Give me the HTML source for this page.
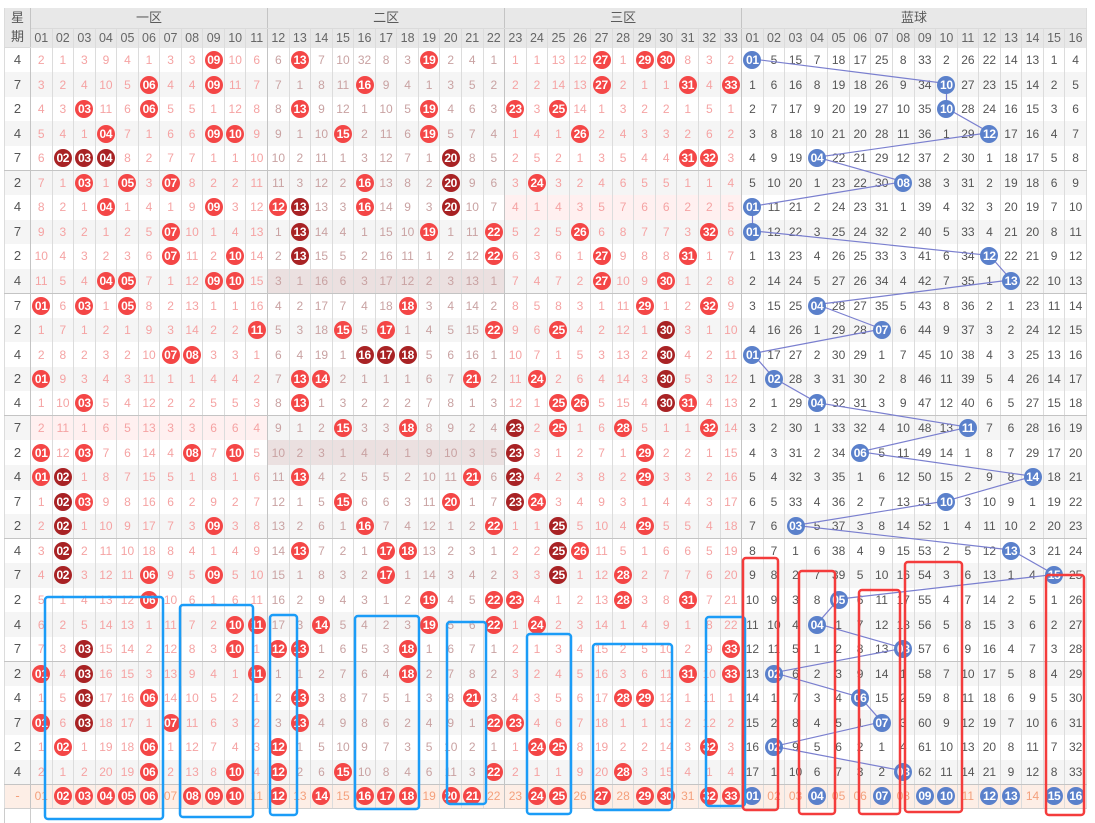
<!DOCTYPE html>
<html><head><meta charset="utf-8">
<style>
html,body{margin:0;padding:0;background:#fff}
body{width:1095px;height:823px;overflow:hidden;position:relative;font-family:"Liberation Sans","Noto Sans CJK SC",sans-serif}
table{position:absolute;left:4px;top:8px;border-collapse:collapse;table-layout:fixed;width:1082.4px}
td,th{padding:0;text-align:center;vertical-align:middle;white-space:nowrap;overflow:visible;border-left:1px solid #dcdcdc;border-right:1px solid #dcdcdc;font-size:12px;line-height:18px}
th{background:#e8e8e8;color:#5a5a5a;font-weight:normal}
thead tr.h1 th{height:20.3px;font-size:13px;border-bottom:1px solid #dadada}
thead tr.h2 th{height:18.4px;font-size:12.5px;color:#666}
th.wk{font-size:13px;line-height:18.4px;color:#555}
tbody tr{height:24.55px}
tbody tr:nth-child(even) td{background:#f5f5f5}
tbody tr:nth-child(5n) td{border-bottom:1px solid #c4c4c4}
td:nth-child(1){color:#555;font-size:13px}
td:nth-child(n+2){color:#f5a3a3}
td:nth-child(n+13){color:#c9a2a2}
td:nth-child(n+24){color:#f5a3a3}
td:nth-child(n+35){color:#555}
td:nth-child(1),td:nth-child(12),td:nth-child(23),td:nth-child(34){border-right:1px solid #c4c4c4}
th.z{border-right:1px solid #c4c4c4}
tbody tr td.p{background:#fff0f0}
tbody tr td.m{background:#ebe0e0}
b{display:block;margin:0 auto;width:18px;height:18px;line-height:18px;border-radius:50%;background:#f44646;color:#fff!important;font-weight:bold;font-size:12px;letter-spacing:-0.3px;position:relative;z-index:2}
b.d{background:#a82224}
b.u{background:#5a80cb}
tbody tr.s td{background:#fdeee6;color:#f4a07c;border-bottom:1px solid #cfcfcf}
svg{position:absolute;left:0;top:0}
.tail{position:absolute;left:4px;top:808px;width:25px;height:15px;border-left:1px solid #ccc;border-right:1px solid #ccc}
</style></head><body>
<table>
<colgroup><col style="width:26px"><col span="49" style="width:21.56px"></colgroup>
<thead>
<tr class="h1"><th rowspan="2" class="wk z">星<br>期</th><th colspan="11" class="z">一区</th><th colspan="11" class="z">二区</th><th colspan="11" class="z">三区</th><th colspan="16">蓝球</th></tr>
<tr class="h2"><th>01</th><th>02</th><th>03</th><th>04</th><th>05</th><th>06</th><th>07</th><th>08</th><th>09</th><th>10</th><th class="z">11</th><th>12</th><th>13</th><th>14</th><th>15</th><th>16</th><th>17</th><th>18</th><th>19</th><th>20</th><th>21</th><th class="z">22</th><th>23</th><th>24</th><th>25</th><th>26</th><th>27</th><th>28</th><th>29</th><th>30</th><th>31</th><th>32</th><th class="z">33</th><th>01</th><th>02</th><th>03</th><th>04</th><th>05</th><th>06</th><th>07</th><th>08</th><th>09</th><th>10</th><th>11</th><th>12</th><th>13</th><th>14</th><th>15</th><th>16</th></tr>
</thead>
<tbody>
<tr><td>4<td>2<td>1<td>3<td>9<td>4<td>1<td>3<td>3<td><b>09</b><td>10<td>6<td>6<td><b>13</b><td>7<td>10<td>32<td>8<td>3<td><b>19</b><td>2<td>4<td>1<td>1<td>1<td>13<td>12<td><b>27</b><td>1<td><b>29</b><td><b>30</b><td>8<td>3<td>2<td><b class=u>01</b><td>5<td>15<td>7<td>18<td>17<td>25<td>8<td>33<td>2<td>26<td>22<td>14<td>13<td>1<td>4</tr>
<tr><td>7<td>3<td>2<td>4<td>10<td>5<td><b>06</b><td>4<td>4<td><b>09</b><td>11<td>7<td>7<td>1<td>8<td>11<td><b>16</b><td>9<td>4<td>1<td>3<td>5<td>2<td>2<td>2<td>14<td>13<td><b>27</b><td>2<td>1<td>1<td><b>31</b><td>4<td><b>33</b><td>1<td>6<td>16<td>8<td>19<td>18<td>26<td>9<td>34<td><b class=u>10</b><td>27<td>23<td>15<td>14<td>2<td>5</tr>
<tr><td>2<td>4<td>3<td><b>03</b><td>11<td>6<td><b>06</b><td>5<td>5<td>1<td>12<td>8<td>8<td><b>13</b><td>9<td>12<td>1<td>10<td>5<td><b>19</b><td>4<td>6<td>3<td><b>23</b><td>3<td><b>25</b><td>14<td>1<td>3<td>2<td>2<td>1<td>5<td>1<td>2<td>7<td>17<td>9<td>20<td>19<td>27<td>10<td>35<td><b class=u>10</b><td>28<td>24<td>16<td>15<td>3<td>6</tr>
<tr><td>4<td>5<td>4<td>1<td><b>04</b><td>7<td>1<td>6<td>6<td><b>09</b><td><b>10</b><td>9<td>9<td>1<td>10<td><b>15</b><td>2<td>11<td>6<td><b>19</b><td>5<td>7<td>4<td>1<td>4<td>1<td><b>26</b><td>2<td>4<td>3<td>3<td>2<td>6<td>2<td>3<td>8<td>18<td>10<td>21<td>20<td>28<td>11<td>36<td>1<td>29<td><b class=u>12</b><td>17<td>16<td>4<td>7</tr>
<tr><td>7<td>6<td><b class=d>02</b><td><b class=d>03</b><td><b class=d>04</b><td>8<td>2<td>7<td>7<td>1<td>1<td>10<td>10<td>2<td>11<td>1<td>3<td>12<td>7<td>1<td><b class=d>20</b><td>8<td>5<td>2<td>5<td>2<td>1<td>3<td>5<td>4<td>4<td><b>31</b><td><b>32</b><td>3<td>4<td>9<td>19<td><b class=u>04</b><td>22<td>21<td>29<td>12<td>37<td>2<td>30<td>1<td>18<td>17<td>5<td>8</tr>
<tr><td>2<td>7<td>1<td><b>03</b><td>1<td><b>05</b><td>3<td><b>07</b><td>8<td>2<td>2<td>11<td>11<td>3<td>12<td>2<td><b>16</b><td>13<td>8<td>2<td><b class=d>20</b><td>9<td>6<td>3<td><b>24</b><td>3<td>2<td>4<td>6<td>5<td>5<td>1<td>1<td>4<td>5<td>10<td>20<td>1<td>23<td>22<td>30<td><b class=u>08</b><td>38<td>3<td>31<td>2<td>19<td>18<td>6<td>9</tr>
<tr><td>4<td>8<td>2<td>1<td><b>04</b><td>1<td>4<td>1<td>9<td><b>09</b><td>3<td>12<td><b>12</b><td><b class=d>13</b><td>13<td>3<td><b>16</b><td>14<td>9<td>3<td><b class=d>20</b><td>10<td>7<td class=p>4<td class=p>1<td class=p>4<td class=p>3<td class=p>5<td class=p>7<td class=p>6<td class=p>6<td class=p>2<td class=p>2<td class=p>5<td><b class=u>01</b><td>11<td>21<td>2<td>24<td>23<td>31<td>1<td>39<td>4<td>32<td>3<td>20<td>19<td>7<td>10</tr>
<tr><td>7<td>9<td>3<td>2<td>1<td>2<td>5<td><b>07</b><td>10<td>1<td>4<td>13<td>1<td><b class=d>13</b><td>14<td>4<td>1<td>15<td>10<td><b>19</b><td>1<td>11<td><b>22</b><td>5<td>2<td>5<td><b>26</b><td>6<td>8<td>7<td>7<td>3<td><b>32</b><td>6<td><b class=u>01</b><td>12<td>22<td>3<td>25<td>24<td>32<td>2<td>40<td>5<td>33<td>4<td>21<td>20<td>8<td>11</tr>
<tr><td>2<td>10<td>4<td>3<td>2<td>3<td>6<td><b>07</b><td>11<td>2<td><b>10</b><td>14<td>2<td><b class=d>13</b><td>15<td>5<td>2<td>16<td>11<td>1<td>2<td>12<td><b>22</b><td>6<td>3<td>6<td>1<td><b>27</b><td>9<td>8<td>8<td><b>31</b><td>1<td>7<td>1<td>13<td>23<td>4<td>26<td>25<td>33<td>3<td>41<td>6<td>34<td><b class=u>12</b><td>22<td>21<td>9<td>12</tr>
<tr><td>4<td>11<td>5<td>4<td><b>04</b><td><b>05</b><td>7<td>1<td>12<td><b>09</b><td><b>10</b><td>15<td class=m>3<td class=m>1<td class=m>16<td class=m>6<td class=m>3<td class=m>17<td class=m>12<td class=m>2<td class=m>3<td class=m>13<td class=m>1<td>7<td>4<td>7<td>2<td><b>27</b><td>10<td>9<td><b>30</b><td>1<td>2<td>8<td>2<td>14<td>24<td>5<td>27<td>26<td>34<td>4<td>42<td>7<td>35<td>1<td><b class=u>13</b><td>22<td>10<td>13</tr>
<tr><td>7<td><b>01</b><td>6<td><b>03</b><td>1<td><b>05</b><td>8<td>2<td>13<td>1<td>1<td>16<td>4<td>2<td>17<td>7<td>4<td>18<td><b>18</b><td>3<td>4<td>14<td>2<td>8<td>5<td>8<td>3<td>1<td>11<td><b>29</b><td>1<td>2<td><b>32</b><td>9<td>3<td>15<td>25<td><b class=u>04</b><td>28<td>27<td>35<td>5<td>43<td>8<td>36<td>2<td>1<td>23<td>11<td>14</tr>
<tr><td>2<td>1<td>7<td>1<td>2<td>1<td>9<td>3<td>14<td>2<td>2<td><b>11</b><td>5<td>3<td>18<td><b>15</b><td>5<td><b>17</b><td>1<td>4<td>5<td>15<td><b>22</b><td>9<td>6<td><b>25</b><td>4<td>2<td>12<td>1<td><b class=d>30</b><td>3<td>1<td>10<td>4<td>16<td>26<td>1<td>29<td>28<td><b class=u>07</b><td>6<td>44<td>9<td>37<td>3<td>2<td>24<td>12<td>15</tr>
<tr><td>4<td>2<td>8<td>2<td>3<td>2<td>10<td><b>07</b><td><b>08</b><td>3<td>3<td>1<td>6<td>4<td>19<td>1<td><b class=d>16</b><td><b class=d>17</b><td><b class=d>18</b><td>5<td>6<td>16<td>1<td>10<td>7<td>1<td>5<td>3<td>13<td>2<td><b class=d>30</b><td>4<td>2<td>11<td><b class=u>01</b><td>17<td>27<td>2<td>30<td>29<td>1<td>7<td>45<td>10<td>38<td>4<td>3<td>25<td>13<td>16</tr>
<tr><td>2<td><b>01</b><td>9<td>3<td>4<td>3<td>11<td>1<td>1<td>4<td>4<td>2<td>7<td><b>13</b><td><b>14</b><td>2<td>1<td>1<td>1<td>6<td>7<td><b>21</b><td>2<td>11<td><b>24</b><td>2<td>6<td>4<td>14<td>3<td><b class=d>30</b><td>5<td>3<td>12<td>1<td><b class=u>02</b><td>28<td>3<td>31<td>30<td>2<td>8<td>46<td>11<td>39<td>5<td>4<td>26<td>14<td>17</tr>
<tr><td>4<td>1<td>10<td><b>03</b><td>5<td>4<td>12<td>2<td>2<td>5<td>5<td>3<td>8<td><b>13</b><td>1<td>3<td>2<td>2<td>2<td>7<td>8<td>1<td>3<td>12<td>1<td><b>25</b><td><b>26</b><td>5<td>15<td>4<td><b class=d>30</b><td><b>31</b><td>4<td>13<td>2<td>1<td>29<td><b class=u>04</b><td>32<td>31<td>3<td>9<td>47<td>12<td>40<td>6<td>5<td>27<td>15<td>18</tr>
<tr><td>7<td class=p>2<td class=p>11<td class=p>1<td class=p>6<td class=p>5<td class=p>13<td class=p>3<td class=p>3<td class=p>6<td class=p>6<td class=p>4<td>9<td>1<td>2<td><b>15</b><td>3<td>3<td><b>18</b><td>8<td>9<td>2<td>4<td><b class=d>23</b><td>2<td><b>25</b><td>1<td>6<td><b>28</b><td>5<td>1<td>1<td><b>32</b><td>14<td>3<td>2<td>30<td>1<td>33<td>32<td>4<td>10<td>48<td>13<td><b class=u>11</b><td>7<td>6<td>28<td>16<td>19</tr>
<tr><td>2<td><b>01</b><td>12<td><b>03</b><td>7<td>6<td>14<td>4<td><b>08</b><td>7<td><b>10</b><td>5<td class=m>10<td class=m>2<td class=m>3<td class=m>1<td class=m>4<td class=m>4<td class=m>1<td class=m>9<td class=m>10<td class=m>3<td class=m>5<td><b class=d>23</b><td>3<td>1<td>2<td>7<td>1<td><b>29</b><td>2<td>2<td>1<td>15<td>4<td>3<td>31<td>2<td>34<td><b class=u>06</b><td>5<td>11<td>49<td>14<td>1<td>8<td>7<td>29<td>17<td>20</tr>
<tr><td>4<td><b>01</b><td><b class=d>02</b><td>1<td>8<td>7<td>15<td>5<td>1<td>8<td>1<td>6<td>11<td><b>13</b><td>4<td>2<td>5<td>5<td>2<td>10<td>11<td><b>21</b><td>6<td><b class=d>23</b><td>4<td>2<td>3<td>8<td>2<td><b>29</b><td>3<td>3<td>2<td>16<td>5<td>4<td>32<td>3<td>35<td>1<td>6<td>12<td>50<td>15<td>2<td>9<td>8<td><b class=u>14</b><td>18<td>21</tr>
<tr><td>7<td>1<td><b class=d>02</b><td><b>03</b><td>9<td>8<td>16<td>6<td>2<td>9<td>2<td>7<td>12<td>1<td>5<td><b>15</b><td>6<td>6<td>3<td>11<td><b>20</b><td>1<td>7<td><b class=d>23</b><td><b>24</b><td>3<td>4<td>9<td>3<td>1<td>4<td>4<td>3<td>17<td>6<td>5<td>33<td>4<td>36<td>2<td>7<td>13<td>51<td><b class=u>10</b><td>3<td>10<td>9<td>1<td>19<td>22</tr>
<tr><td>2<td>2<td><b class=d>02</b><td>1<td>10<td>9<td>17<td>7<td>3<td><b>09</b><td>3<td>8<td>13<td>2<td>6<td>1<td><b>16</b><td>7<td>4<td>12<td>1<td>2<td><b>22</b><td>1<td>1<td><b class=d>25</b><td>5<td>10<td>4<td><b>29</b><td>5<td>5<td>4<td>18<td>7<td>6<td><b class=u>03</b><td>5<td>37<td>3<td>8<td>14<td>52<td>1<td>4<td>11<td>10<td>2<td>20<td>23</tr>
<tr><td>4<td>3<td><b class=d>02</b><td>2<td>11<td>10<td>18<td>8<td>4<td>1<td>4<td>9<td>14<td><b>13</b><td>7<td>2<td>1<td><b>17</b><td><b>18</b><td>13<td>2<td>3<td>1<td>2<td>2<td><b class=d>25</b><td><b>26</b><td>11<td>5<td>1<td>6<td>6<td>5<td>19<td>8<td>7<td>1<td>6<td>38<td>4<td>9<td>15<td>53<td>2<td>5<td>12<td><b class=u>13</b><td>3<td>21<td>24</tr>
<tr><td>7<td>4<td><b class=d>02</b><td>3<td>12<td>11<td><b>06</b><td>9<td>5<td><b>09</b><td>5<td>10<td>15<td>1<td>8<td>3<td>2<td><b>17</b><td>1<td>14<td>3<td>4<td>2<td>3<td>3<td><b class=d>25</b><td>1<td>12<td><b>28</b><td>2<td>7<td>7<td>6<td>20<td>9<td>8<td>2<td>7<td>39<td>5<td>10<td>16<td>54<td>3<td>6<td>13<td>1<td>4<td><b class=u>15</b><td>25</tr>
<tr><td>2<td>5<td>1<td>4<td>13<td>12<td><b>06</b><td>10<td>6<td>1<td>6<td>11<td>16<td>2<td>9<td>4<td>3<td>1<td>2<td><b>19</b><td>4<td>5<td><b>22</b><td><b>23</b><td>4<td>1<td>2<td>13<td><b>28</b><td>3<td>8<td><b>31</b><td>7<td>21<td>10<td>9<td>3<td>8<td><b class=u>05</b><td>6<td>11<td>17<td>55<td>4<td>7<td>14<td>2<td>5<td>1<td>26</tr>
<tr><td>4<td>6<td>2<td>5<td>14<td>13<td>1<td>11<td>7<td>2<td><b>10</b><td><b>11</b><td>17<td>3<td><b>14</b><td>5<td>4<td>2<td>3<td><b>19</b><td>5<td>6<td><b>22</b><td>1<td><b>24</b><td>2<td>3<td>14<td>1<td>4<td>9<td>1<td>8<td>22<td>11<td>10<td>4<td><b class=u>04</b><td>1<td>7<td>12<td>18<td>56<td>5<td>8<td>15<td>3<td>6<td>2<td>27</tr>
<tr><td>7<td>7<td>3<td><b class=d>03</b><td>15<td>14<td>2<td>12<td>8<td>3<td><b>10</b><td>1<td><b>12</b><td><b>13</b><td>1<td>6<td>5<td>3<td><b>18</b><td>1<td>6<td>7<td>1<td>2<td>1<td>3<td>4<td>15<td>2<td>5<td>10<td>2<td>9<td><b>33</b><td>12<td>11<td>5<td>1<td>2<td>8<td>13<td><b class=u>08</b><td>57<td>6<td>9<td>16<td>4<td>7<td>3<td>28</tr>
<tr><td>2<td><b>01</b><td>4<td><b class=d>03</b><td>16<td>15<td>3<td>13<td>9<td>4<td>1<td><b>11</b><td>1<td>1<td>2<td>7<td>6<td>4<td><b>18</b><td>2<td>7<td>8<td>2<td>3<td>2<td>4<td>5<td>16<td>3<td>6<td>11<td><b>31</b><td>10<td><b>33</b><td>13<td><b class=u>02</b><td>6<td>2<td>3<td>9<td>14<td>1<td>58<td>7<td>10<td>17<td>5<td>8<td>4<td>29</tr>
<tr><td>4<td>1<td>5<td><b class=d>03</b><td>17<td>16<td><b>06</b><td>14<td>10<td>5<td>2<td>1<td>2<td><b>13</b><td>3<td>8<td>7<td>5<td>1<td>3<td>8<td><b>21</b><td>3<td>4<td>3<td>5<td>6<td>17<td><b>28</b><td><b>29</b><td>12<td>1<td>11<td>1<td>14<td>1<td>7<td>3<td>4<td><b class=u>06</b><td>15<td>2<td>59<td>8<td>11<td>18<td>6<td>9<td>5<td>30</tr>
<tr><td>7<td><b>01</b><td>6<td><b class=d>03</b><td>18<td>17<td>1<td><b>07</b><td>11<td>6<td>3<td>2<td>3<td><b>13</b><td>4<td>9<td>8<td>6<td>2<td>4<td>9<td>1<td><b>22</b><td><b>23</b><td>4<td>6<td>7<td>18<td>1<td>1<td>13<td>2<td>12<td>2<td>15<td>2<td>8<td>4<td>5<td>1<td><b class=u>07</b><td>3<td>60<td>9<td>12<td>19<td>7<td>10<td>6<td>31</tr>
<tr><td>2<td>1<td><b>02</b><td>1<td>19<td>18<td><b>06</b><td>1<td>12<td>7<td>4<td>3<td><b>12</b><td>1<td>5<td>10<td>9<td>7<td>3<td>5<td>10<td>2<td>1<td>1<td><b>24</b><td><b>25</b><td>8<td>19<td>2<td>2<td>14<td>3<td><b>32</b><td>3<td>16<td><b class=u>02</b><td>9<td>5<td>6<td>2<td>1<td>4<td>61<td>10<td>13<td>20<td>8<td>11<td>7<td>32</tr>
<tr><td>4<td>2<td>1<td>2<td>20<td>19<td><b>06</b><td>2<td>13<td>8<td><b>10</b><td>4<td><b>12</b><td>2<td>6<td><b>15</b><td>10<td>8<td>4<td>6<td>11<td>3<td><b>22</b><td>2<td>1<td>1<td>9<td>20<td><b>28</b><td>3<td>15<td>4<td>1<td>4<td>17<td>1<td>10<td>6<td>7<td>3<td>2<td><b class=u>08</b><td>62<td>11<td>14<td>21<td>9<td>12<td>8<td>33</tr>
<tr class="s"><td>-<td>01<td><b>02</b><td><b>03</b><td><b>04</b><td><b>05</b><td><b>06</b><td>07<td><b>08</b><td><b>09</b><td><b>10</b><td>11<td><b>12</b><td>13<td><b>14</b><td>15<td><b>16</b><td><b>17</b><td><b>18</b><td>19<td><b>20</b><td><b>21</b><td>22<td>23<td><b>24</b><td><b>25</b><td>26<td><b>27</b><td>28<td><b>29</b><td><b>30</b><td>31<td><b>32</b><td><b>33</b><td><b class=u>01</b><td>02<td>03<td><b class=u>04</b><td>05<td>06<td><b class=u>07</b><td>08<td><b class=u>09</b><td><b class=u>10</b><td>11<td><b class=u>12</b><td><b class=u>13</b><td>14<td><b class=u>15</b><td><b class=u>16</b></tr>
</tbody>
</table>
<div class="tail"></div>
<svg width="1095" height="823" style="z-index:1">
<polyline fill="none" stroke="#7a7fcf" stroke-width="1.2" points="752.5,59 946.5,83.5 946.5,108.1 989.6,132.6 817.2,157.2 903.4,181.7 752.5,206.3 752.5,230.8 989.6,255.4 1011.2,279.9 817.2,304.5 881.8,329 752.5,353.6 774,378.1 817.2,402.7 968.1,427.2 860.3,451.8 1032.8,476.3 946.5,500.9 795.6,525.4 1011.2,550 1054.3,574.5 838.7,599.1 817.2,623.6 903.4,648.2 774,672.7 860.3,697.3 881.8,721.8 774,746.4 903.4,770.9"/>
</svg>
<svg width="1095" height="823" style="z-index:3">
<g fill="none" stroke="#1b9cf7" stroke-width="2.5">
<rect x="45" y="597" width="118" height="222" rx="3"/>
<rect x="180" y="605" width="73" height="212" rx="3"/>
<rect x="270" y="615" width="27" height="200" rx="3"/>
<rect x="355" y="616" width="64" height="193" rx="3"/>
<rect x="447" y="622" width="39" height="182" rx="3"/>
<rect x="527" y="634" width="44" height="180" rx="3"/>
<rect x="593" y="644" width="79" height="166" rx="3"/>
<rect x="706" y="617" width="39" height="189" rx="3"/>
</g>
<g fill="none" stroke="#f43c3c" stroke-width="2.5">
<rect x="743" y="558" width="35" height="252" rx="3"/>
<rect x="799" y="571" width="36" height="243" rx="3"/>
<rect x="859" y="590" width="41" height="224" rx="3"/>
<rect x="905" y="562" width="57" height="250" rx="3"/>
<rect x="1046" y="575" width="38" height="240" rx="3"/>
</g>
</svg>
</body></html>
